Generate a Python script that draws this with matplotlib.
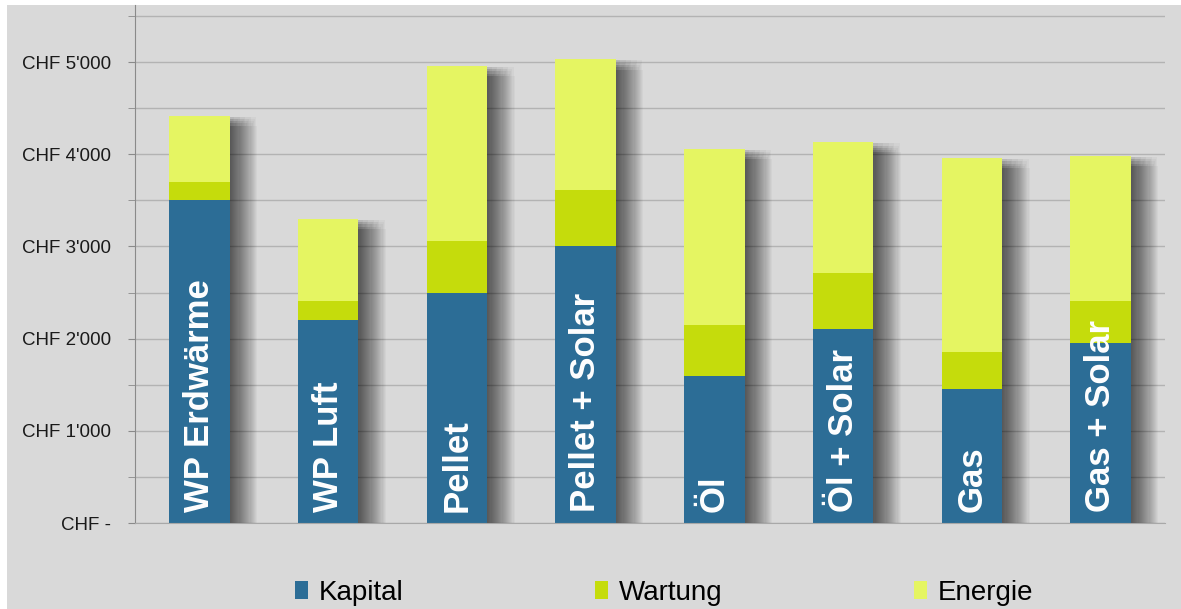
import numpy as np
import matplotlib
matplotlib.use("Agg")
import matplotlib.pyplot as plt
from matplotlib.patches import Rectangle, Patch

plt.rcParams['font.family'] = ['Liberation Sans', 'DejaVu Sans']

categories = ['WP Erdwärme', 'WP Luft', 'Pellet', 'Pellet + Solar',
              'Öl', 'Öl + Solar', 'Gas', 'Gas + Solar']
kapital = [3500, 2200, 2500, 3000, 1600, 2100, 1455, 1950]
wartung = [200, 210, 555, 610, 550, 610, 400, 460]
energie = [720, 890, 1905, 1420, 1905, 1420, 2105, 1575]
series_names = ['Kapital', 'Wartung', 'Energie']
colors = ['#2c6d96', '#c5dc0c', '#e5f562']
ytick_vals = [0, 1000, 2000, 3000, 4000, 5000]
ytick_labels = ['CHF -', "CHF 1'000", "CHF 2'000", "CHF 3'000", "CHF 4'000", "CHF 5'000"]

bg = '#d9d9d9'
fig = plt.figure(figsize=(11.81, 6.09), dpi=100, facecolor='white')
fig.patches.append(Rectangle((7 / 1181, 0), 1, 604 / 609, transform=fig.transFigure,
                             facecolor=bg, edgecolor='none', zorder=-10))

ax = fig.add_axes([135 / 1181, 86 / 609, 1030 / 1181, 518 / 609])
ax.set_facecolor(bg)

x = np.arange(len(categories))
width = 0.47
kap = np.array(kapital)
war = np.array(wartung)
ene = np.array(energie)
totals = kap + war + ene

# soft blurred shadow to the right of each bar
px = 1 / 128.9
for k in range(1, 26):
    ax.bar(x + k * 1.1 * px, totals - 60 + (k % 5) * 25 - 50, width, color='black',
           alpha=0.032, linewidth=0, zorder=1.5)

ax.bar(x, kap, width, color=colors[0], linewidth=0, zorder=2)
ax.bar(x, war, width, bottom=kap, color=colors[1], linewidth=0, zorder=2)
ax.bar(x, ene, width, bottom=kap + war, color=colors[2], linewidth=0, zorder=2)

for xi, name in zip(x, categories):
    ax.annotate(name, (xi, 0), xytext=(0, 8), textcoords='offset points',
                rotation=90, ha='center', va='bottom', color='white',
                fontsize=25, fontweight='bold', zorder=3)

ax.set_xlim(-0.5, len(categories) - 0.5)
ax.set_ylim(0, 5620)
ax.set_xticks([])
ax.set_yticks(ytick_vals)
ax.set_yticklabels(ytick_labels, fontsize=13.5, color='#1a1a1a')
ax.set_yticks(np.arange(500, 5600, 1000), minor=True)
ax.tick_params(axis='y', which='both', length=5, color='#8a8a8a', pad=12)
ax.grid(axis='y', which='both', color='#b3b3b3', linewidth=1)
ax.set_axisbelow(True)

for side in ['top', 'right']:
    ax.spines[side].set_visible(False)
ax.spines['left'].set_color('#8a8a8a')
ax.spines['bottom'].set_color('#a8a8a8')

handles = [Patch(facecolor=c, edgecolor='none') for c in colors]
fig.legend(handles, series_names, loc='center', bbox_to_anchor=(0.5625, 0.027),
           ncol=3, frameon=False, fontsize=20, handlelength=0.45, handleheight=0.6,
           handletextpad=0.4, columnspacing=6.9)

fig.savefig('out.png', dpi=100, facecolor=fig.get_facecolor())
